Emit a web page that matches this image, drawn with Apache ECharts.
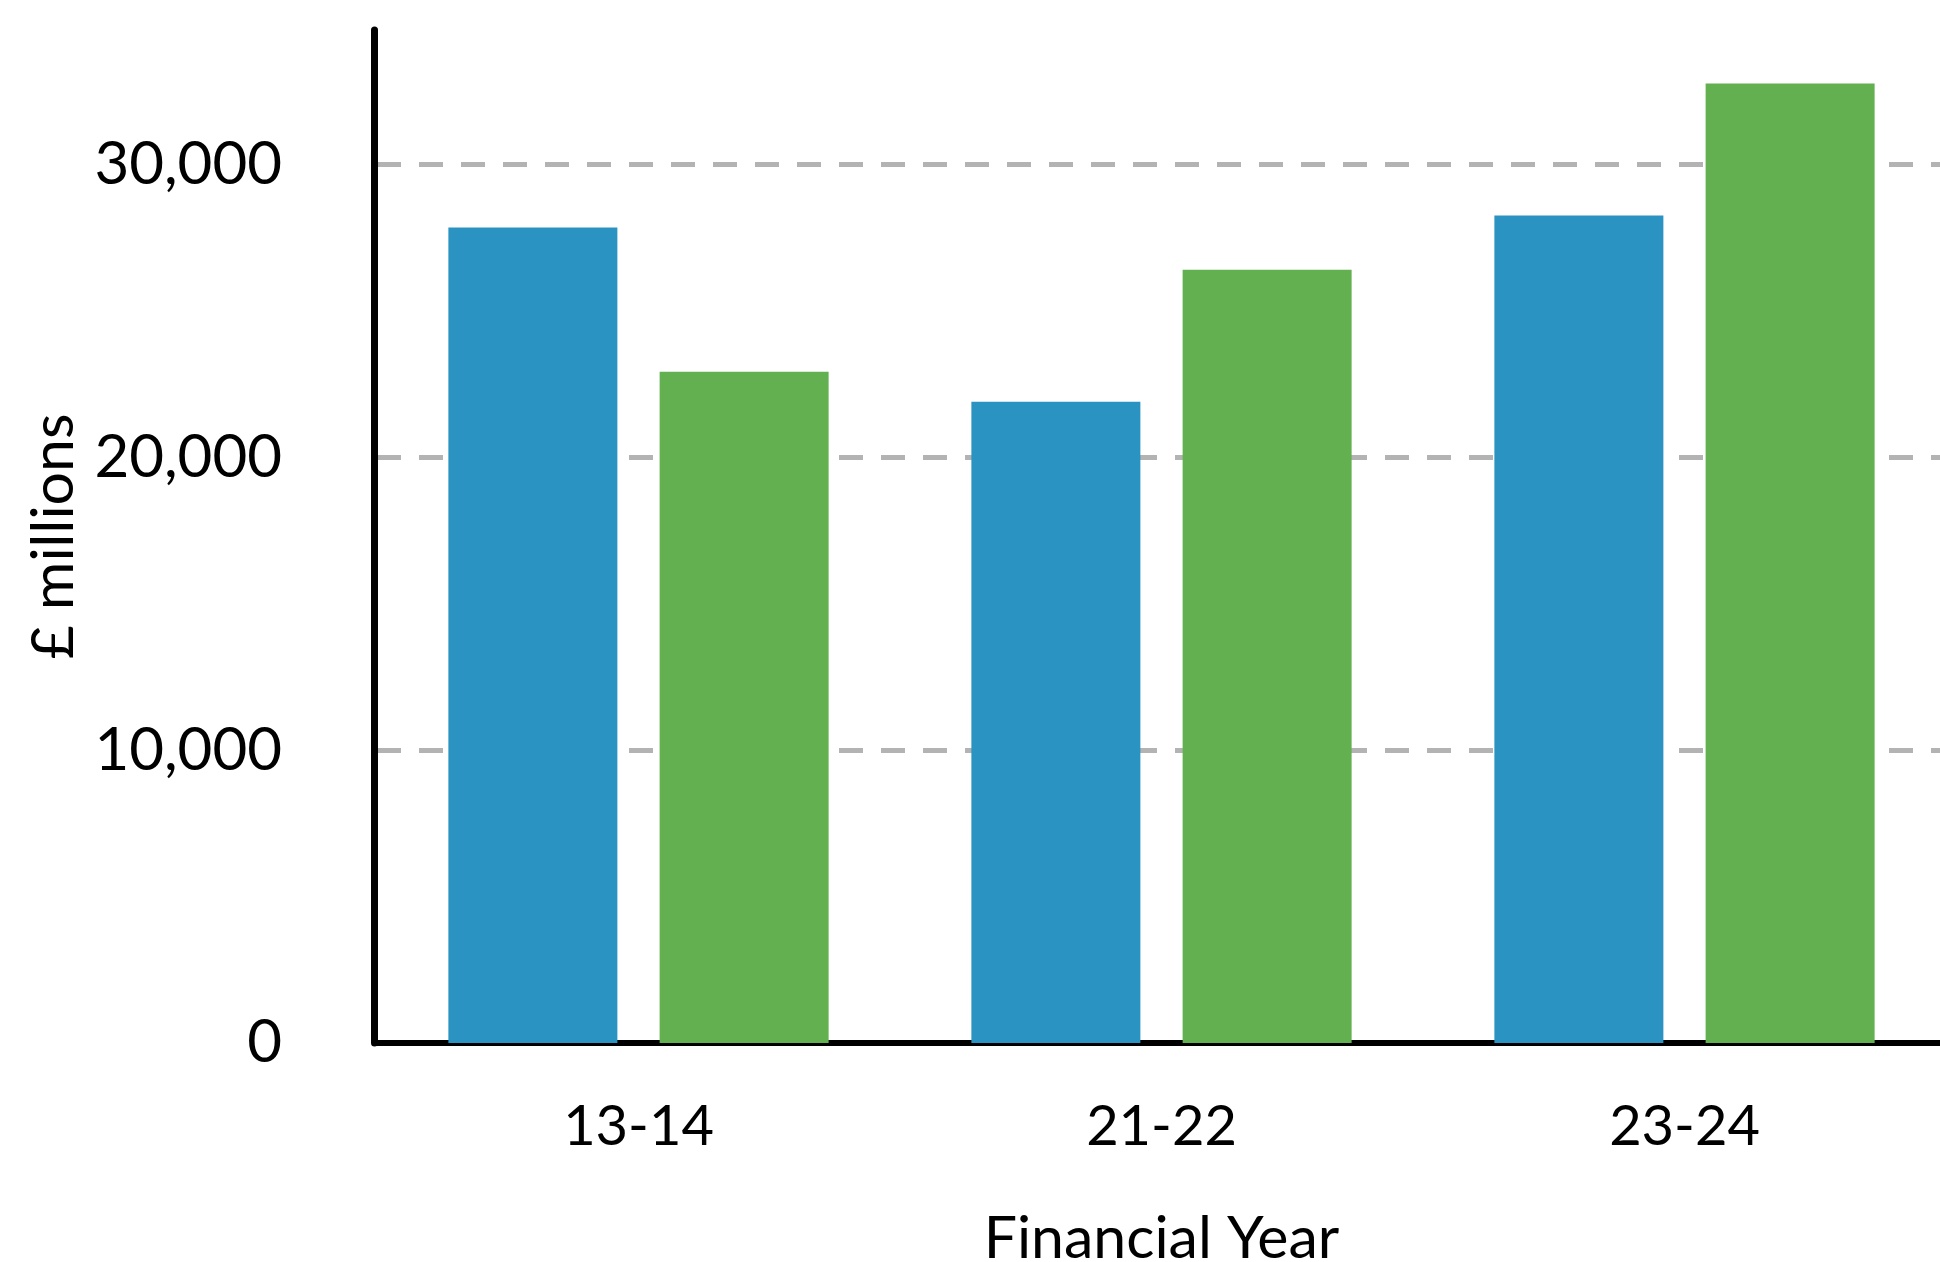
<!DOCTYPE html>
<html>
<head>
<meta charset="utf-8">
<script src="https://cdn.jsdelivr.net/npm/echarts@6/dist/echarts.min.js"></script>
<style>
html,body{margin:0;padding:0;background:#fff;}
#chart{width:1940px;height:1262px;}
</style>
</head>
<body>
<div id="chart"></div>
<script>
const categories = ['13-14', '21-22', '23-24'];
const seriesBlue = [27850, 21900, 28260];
const seriesGreen = [22930, 26410, 32770];
const yTicks = [0, 10000, 20000, 30000];

const FONT = 'Lato, "Liberation Sans", sans-serif';
const chart = echarts.init(document.getElementById('chart'), null, {renderer: 'canvas'});
chart.setOption({
  backgroundColor: '#ffffff',
  animation: false,
  grid: {left: 377, top: 30, width: 1569, bottom: 219, containLabel: false, outerBoundsMode: 'none'},
  xAxis: {
    type: 'category',
    data: categories,
    name: 'Financial Year',
    nameLocation: 'middle',
    nameGap: 166,
    nameTextStyle: {color: '#000', fontSize: 59, fontFamily: FONT},
    axisLine: {show: true, lineStyle: {color: '#000', width: 6}},
    axisTick: {show: false},
    axisLabel: {color: '#000', fontSize: 56, fontFamily: FONT, margin: 56},
    splitLine: {show: false}
  },
  yAxis: {
    type: 'value',
    min: yTicks[0],
    max: 34600,
    interval: yTicks[1] - yTicks[0],
    offset: 3,
    name: '£ millions',
    nameLocation: 'middle',
    nameGap: 290,
    nameTextStyle: {color: '#000', fontSize: 59, fontFamily: FONT},
    axisLine: {show: true, lineStyle: {color: '#000', width: 7}},
    axisTick: {show: false},
    axisLabel: {color: '#000', fontSize: 60, fontFamily: FONT, margin: 92, showMaxLabel: false},
    splitLine: {show: true, showMinLine: false, showMaxLine: false,
      lineStyle: {color: '#b3b3b3', width: 5, type: [24, 18]}}
  },
  series: [
    {name: 'Blue', type: 'bar', data: seriesBlue, barWidth: 169, barGap: '25%',
     itemStyle: {color: '#2A93C1'}},
    {name: 'Green', type: 'bar', data: seriesGreen, barWidth: 169, barGap: '25%',
     itemStyle: {color: '#63B051'}}
  ]
});
</script>
</body>
</html>
